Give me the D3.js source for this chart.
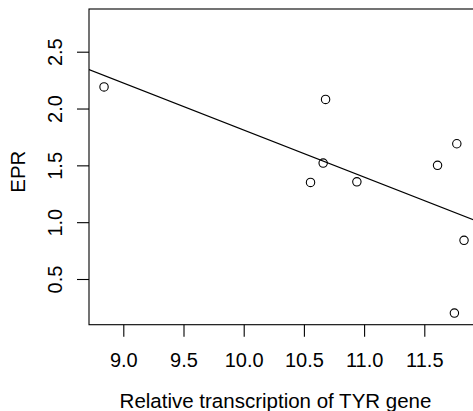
<!DOCTYPE html>
<html>
<head>
<meta charset="utf-8">
<script src="https://cdn.jsdelivr.net/npm/d3@7"></script>
<style>
  body { margin: 0; background: #fff; }
  text { font-family: "Liberation Sans", Arial, sans-serif; fill: #000; }
</style>
</head>
<body>
<div id="drawing"></div>
<script>
// transcription of TYR (x) vs EPR (y)
var tyr = [8.84, 10.68, 10.66, 10.555, 10.94, 11.61, 11.77, 11.83, 11.75];
var epr = [2.19, 2.08, 1.52, 1.35, 1.355, 1.50, 1.69, 0.84, 0.20];
var xTicks = [9.0, 9.5, 10.0, 10.5, 11.0, 11.5];
var yTicks = [0.5, 1.0, 1.5, 2.0, 2.5];
var xTitle = "Relative transcription of TYR gene";
var yTitle = "EPR";

var width = 473;
var height = 411;

// plot box (right side runs past the window, as in the picture)
var box = {left: 89, top: 9, right: 500, bottom: 324.7};

var xScale = d3.scaleLinear().domain([9, 11.5]).range([123.3, 424.3]);
var yScale = d3.scaleLinear().domain([0.5, 2.5]).range([279, 51.7]);

var svg = d3.select("#drawing").append("svg")
  .attr("width", width)
  .attr("height", height);

svg.append("defs").append("clipPath")
  .attr("id", "plotClip")
  .append("rect")
  .attr("x", box.left).attr("y", box.top)
  .attr("width", box.right - box.left)
  .attr("height", box.bottom - box.top);

// box
svg.append("rect")
  .attr("x", box.left).attr("y", box.top)
  .attr("width", box.right - box.left)
  .attr("height", box.bottom - box.top)
  .style("fill", "none")
  .style("stroke", "#000")
  .style("stroke-width", 1.1);

// x axis
var xAxis = svg.append("g")
  .attr("transform", `translate(0, ${box.bottom})`)
  .call(d3.axisBottom(xScale).tickValues(xTicks).tickSize(12).tickFormat(d3.format(".1f")));
xAxis.select(".domain").remove();
xAxis.selectAll("line").style("stroke", "#000").style("stroke-width", 1.1);
xAxis.selectAll("text")
  .attr("y", 42.6).attr("dy", 0)
  .style("font-size", "20px")
  .style("fill", "#000");

// y axis
var yAxis = svg.append("g")
  .attr("transform", `translate(${box.left}, 0)`)
  .call(d3.axisLeft(yScale).tickValues(yTicks).tickSize(12).tickFormat(d3.format(".1f")));
yAxis.select(".domain").remove();
yAxis.selectAll("line").style("stroke", "#000").style("stroke-width", 1.1);
yAxis.selectAll("text")
  .attr("x", 0).attr("y", -27.3).attr("dy", 0)
  .attr("transform", "rotate(-90)")
  .attr("text-anchor", "middle")
  .style("font-size", "20px")
  .style("fill", "#000");

// titles
svg.append("text")
  .attr("x", 275.5).attr("y", 407.7)
  .attr("text-anchor", "middle")
  .style("font-size", "20.5px")
  .text(xTitle);

svg.append("text")
  .attr("transform", "translate(25, 171.7) rotate(-90)")
  .attr("text-anchor", "middle")
  .style("font-size", "20.5px")
  .text(yTitle);

// least squares line
var pts = tyr.map((d, i) => ({x: d, y: epr[i]}));
var mx = d3.mean(tyr), my = d3.mean(epr);
var sxy = d3.sum(pts, d => (d.x - mx) * (d.y - my));
var sxx = d3.sum(pts, d => (d.x - mx) * (d.x - mx));
var slope = sxy / sxx;
var intercept = my - slope * mx;
var x0 = xScale.invert(box.left), x1 = xScale.invert(box.right);

svg.append("line")
  .attr("clip-path", "url(#plotClip)")
  .attr("x1", xScale(x0)).attr("y1", yScale(intercept + slope * x0))
  .attr("x2", xScale(x1)).attr("y2", yScale(intercept + slope * x1))
  .style("stroke", "#000")
  .style("stroke-width", 1.1);

// points
svg.append("g").selectAll("circle")
  .data(pts)
  .join("circle")
  .attr("cx", d => xScale(d.x))
  .attr("cy", d => yScale(d.y))
  .attr("r", 4.2)
  .style("fill", "none")
  .style("stroke", "#000")
  .style("stroke-width", 1.1);
</script>
</body>
</html>
